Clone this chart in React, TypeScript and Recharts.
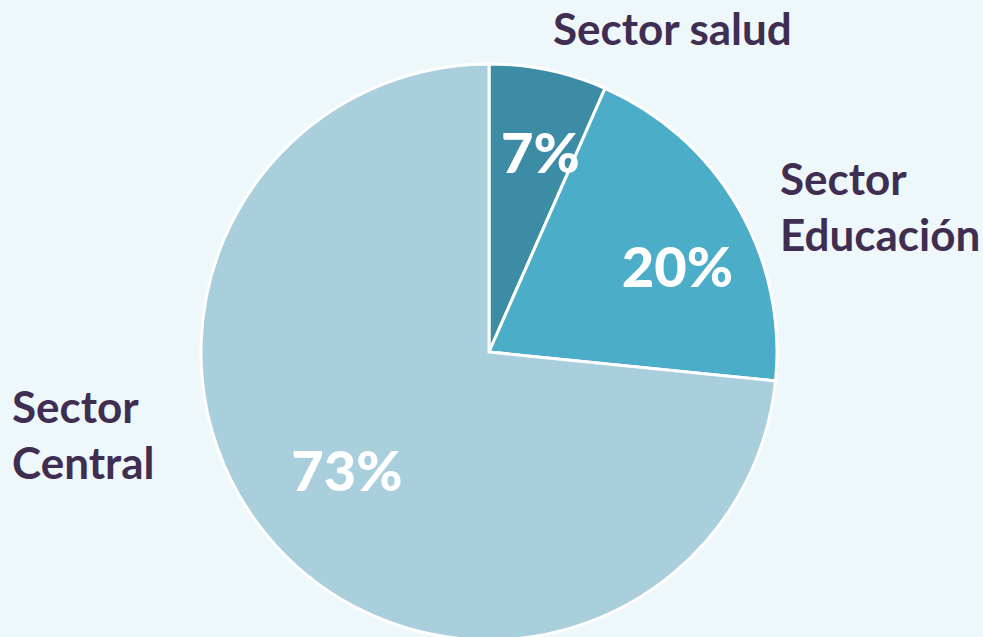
import React from 'react';
import { PieChart, Pie, Cell } from 'recharts';

const sectors = ['Sector salud', 'Sector Educación', 'Sector Central'];
const shares = [6.6, 20.0, 73.4];
const colors = ['#3d8ca5', '#4badc7', '#a9cedc'];

const data = sectors.map((name, i) => ({ name, value: shares[i] }));

const RAD = Math.PI / 180;
// label placement tweaks (radius fraction, angle shift in degrees)
const labelRadius = [0.72, 0.72, 0.64];
const labelShift = [-2.5, -5.6, -2.6];

const renderPct = (props: any) => {
  const { cx, cy, midAngle, outerRadius, index, value } = props;
  const r = outerRadius * labelRadius[index];
  const a = midAngle + labelShift[index];
  const x = cx + r * Math.cos(-a * RAD);
  const y = cy + r * Math.sin(-a * RAD);
  return (
    <text x={x} y={y} fill="#ffffff" textAnchor="middle" dominantBaseline="central"
      style={{ fontFamily: 'Lato', fontWeight: 900, fontSize: 56 }}>
      {`${Math.round(value)}%`}
    </text>
  );
};

const nameStyle: React.CSSProperties = {
  position: 'absolute',
  color: '#402e52',
  fontFamily: 'Lato',
  fontWeight: 700,
  fontSize: 44,
  lineHeight: '56px',
  whiteSpace: 'nowrap',
};

export default function App() {
  return (
    <div style={{ position: 'fixed', left: 0, top: 0, width: 983, height: 637, background: '#eef7fa', overflow: 'hidden' }}>
      <PieChart width={983} height={637}>
        <Pie
          data={data}
          dataKey="value"
          cx={484}
          cy={347}
          outerRadius={288}
          startAngle={90}
          endAngle={-270}
          stroke="#ffffff"
          strokeWidth={3}
          label={renderPct}
          labelLine={false}
          isAnimationActive={false}
        >
          {data.map((d, i) => (
            <Cell key={d.name} fill={colors[i]} />
          ))}
        </Pie>
      </PieChart>
      <div style={{ ...nameStyle, left: 553, top: 0 }}>Sector salud</div>
      <div style={{ ...nameStyle, left: 780, top: 150 }}>Sector<br />Educación</div>
      <div style={{ ...nameStyle, left: 12, top: 378 }}>Sector<br />Central</div>
    </div>
  );
}
